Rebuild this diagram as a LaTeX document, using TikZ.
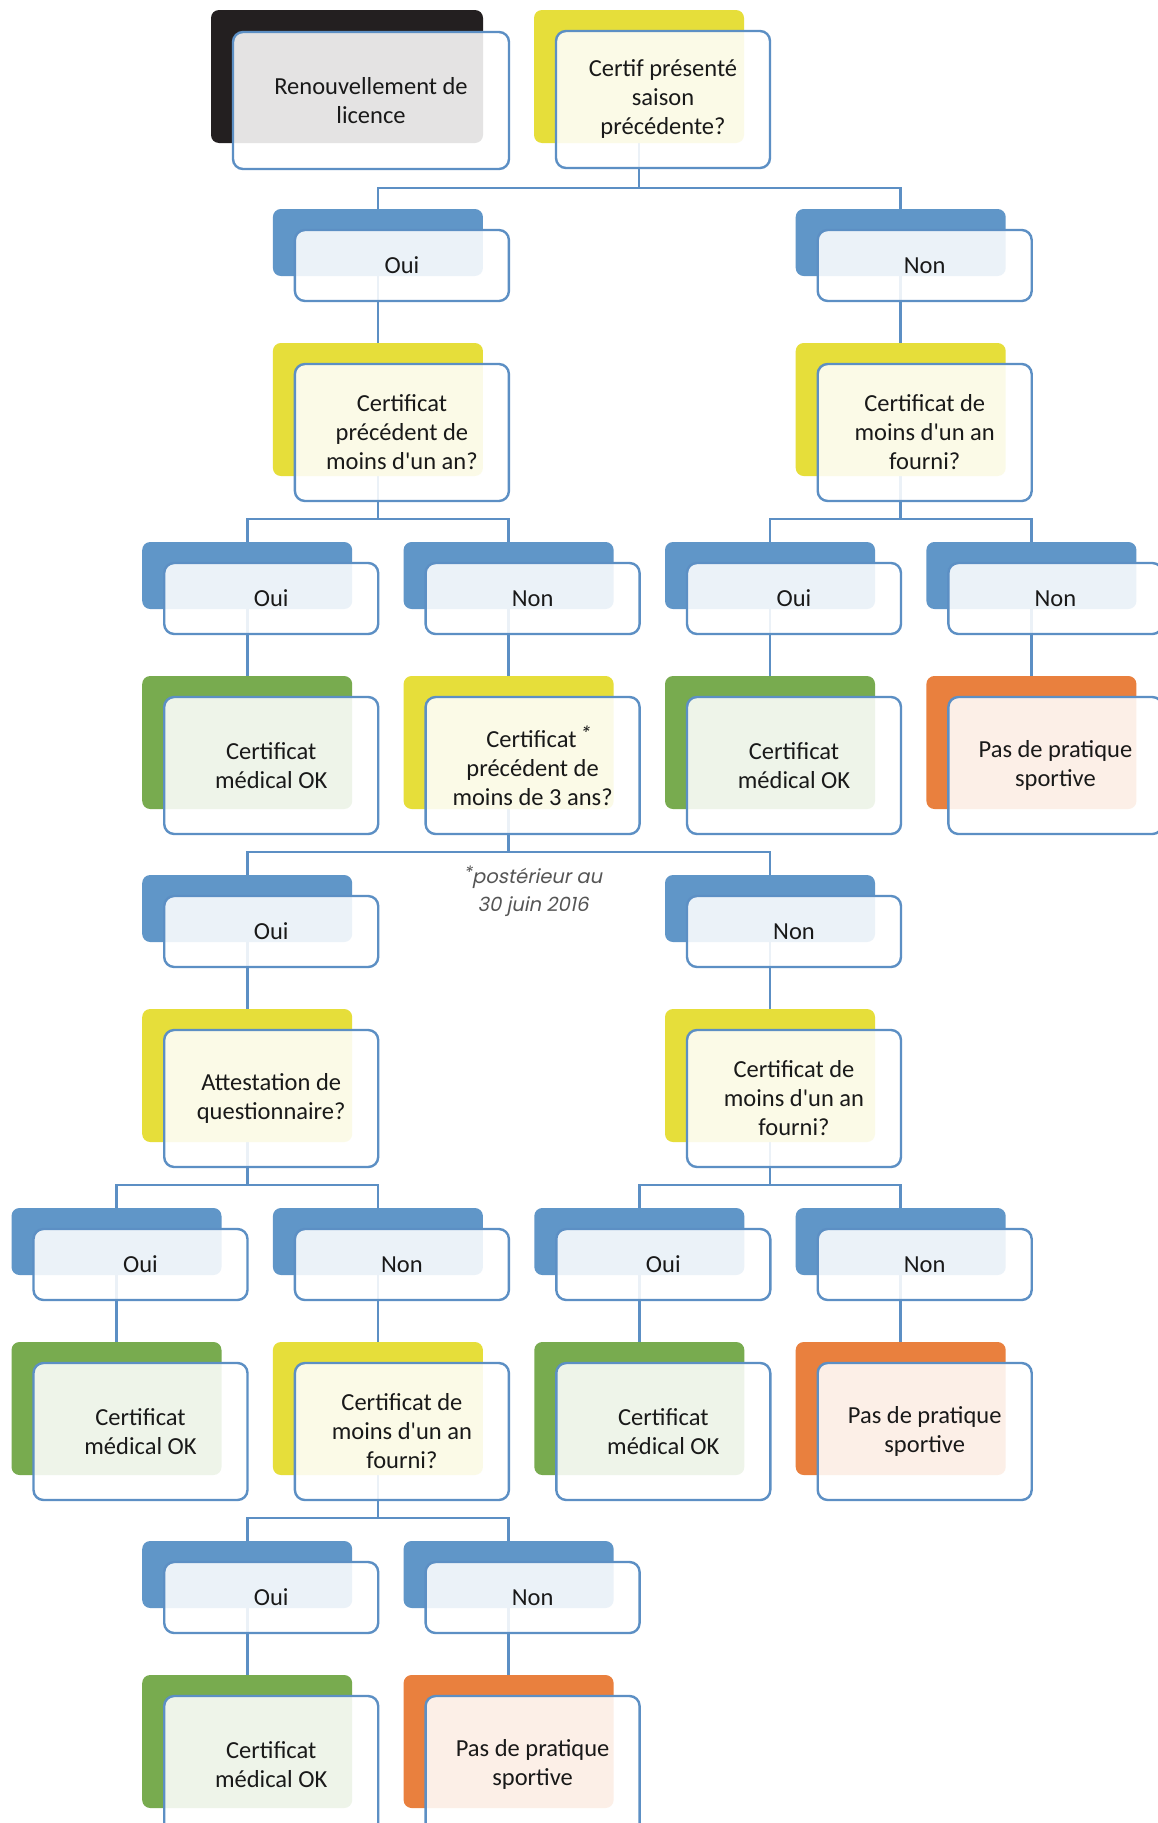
\documentclass[tikz,border=0pt]{standalone}
\usepackage{fontspec}
\setmainfont{Carlito}
\newfontfamily\notefont[FakeSlant=0.2]{Poppins}
\usetikzlibrary{calc}
\definecolor{lineblue}{RGB}{92,143,196}
\definecolor{cblue}{RGB}{96,150,200}
\definecolor{cyellow}{RGB}{230,222,58}
\definecolor{cgreen}{RGB}{120,171,79}
\definecolor{corange}{RGB}{233,128,62}
\definecolor{cblack}{RGB}{35,31,32}
\definecolor{textgray}{RGB}{25,25,25}
\definecolor{notegray}{RGB}{85,85,85}
\newcommand\mainsz{\fontsize{24.5}{29}\selectfont}
\newcommand\ap{\textquotesingle}
\tikzset{
  back/.style={rounded corners=8pt, inner sep=0pt, outer sep=0pt, anchor=north west, minimum width=210pt},
  front/.style={draw=lineblue, line width=2.4pt, fill=white, fill opacity=0.88, text opacity=1,
    rounded corners=10pt, inner sep=0pt, outer sep=0pt, anchor=north west, minimum width=214pt,
    align=center, font=\mainsz, text=textgray},
  sm/.style={minimum height=67pt}, smf/.style={minimum height=71pt},
  bg/.style={minimum height=133pt}, bgf/.style={minimum height=137pt},
  conn/.style={draw=lineblue, line width=2.6pt},
}
\newcommand\duo[6]{%
  \node[back,#4,fill=#5] (#1b) at (#2,#3) {};
  \node[front,#4f] (#1) at ($(#1b.north west)+(22,21)$) {#6};}
\begin{document}
\begin{tikzpicture}[x=1pt,y=-1pt]
\useasboundingbox (0,0) rectangle (1158,1823);
\fill[white] (0,0) rectangle (1158,1823);
\clip (0,0) rectangle (1158,1823);
% junction levels
\coordinate (j0) at (0,188);
\coordinate (j1) at (0,519);
\coordinate (j2) at (0,852);
\coordinate (j3) at (0,1185);
\coordinate (j4) at (0,1518);
% back boxes placed first so that connectors can refer to them
\path
  (534,10) node[back,bg] (certb) {}
  (272.9,209) node[back,sm] (a1b) {}
  (795.7,209) node[back,sm] (a2b) {}
  (272.9,343) node[back,bg] (q1b) {}
  (795.7,343) node[back,bg] (q2b) {}
  (142.2,542) node[back,sm] (b1b) {}
  (403.6,542) node[back,sm] (b2b) {}
  (665.0,542) node[back,sm] (b3b) {}
  (926.4,542) node[back,sm] (b4b) {}
  (142.2,676) node[back,bg] (r1b) {}
  (403.6,676) node[back,bg] (q3b) {}
  (665.0,676) node[back,bg] (r2b) {}
  (926.4,676) node[back,bg] (r3b) {}
  (142.2,875) node[back,sm] (c1b) {}
  (665.0,875) node[back,sm] (c2b) {}
  (142.2,1009) node[back,bg] (q4b) {}
  (665.0,1009) node[back,bg] (q5b) {}
  (11.5,1208) node[back,sm] (d1b) {}
  (272.9,1208) node[back,sm] (d2b) {}
  (534.3,1208) node[back,sm] (d3b) {}
  (795.7,1208) node[back,sm] (d4b) {}
  (11.5,1342) node[back,bg] (r4b) {}
  (272.9,1342) node[back,bg] (q6b) {}
  (534.3,1342) node[back,bg] (r5b) {}
  (795.7,1342) node[back,bg] (r6b) {}
  (142.2,1541) node[back,sm] (e1b) {}
  (403.6,1541) node[back,sm] (e2b) {}
  (142.2,1675) node[back,bg] (r7b) {}
  (403.6,1675) node[back,bg] (r8b) {};
% connectors
\draw[conn] (certb.center) -- (certb.center |- j0) -| (a1b.north);
\draw[conn] (certb.center |- j0) -| (a2b.north);
\draw[conn] (a1b.center) -- (q1b.north);
\draw[conn] (a2b.center) -- (q2b.north);
\draw[conn] (q1b.center) -- (q1b.center |- j1) -| (b1b.north);
\draw[conn] (q1b.center |- j1) -| (b2b.north);
\draw[conn] (q2b.center) -- (q2b.center |- j1) -| (b3b.north);
\draw[conn] (q2b.center |- j1) -| (b4b.north);
\draw[conn] (b1b.center) -- (r1b.north);
\draw[conn] (b2b.center) -- (q3b.north);
\draw[conn] (b3b.center) -- (r2b.north);
\draw[conn] (b4b.center) -- (r3b.north);
\draw[conn] (q3b.center) -- (q3b.center |- j2) -| (c1b.north);
\draw[conn] (q3b.center |- j2) -| (c2b.north);
\draw[conn] (c1b.center) -- (q4b.north);
\draw[conn] (c2b.center) -- (q5b.north);
\draw[conn] (q4b.center) -- (q4b.center |- j3) -| (d1b.north);
\draw[conn] (q4b.center |- j3) -| (d2b.north);
\draw[conn] (q5b.center) -- (q5b.center |- j3) -| (d3b.north);
\draw[conn] (q5b.center |- j3) -| (d4b.north);
\draw[conn] (d1b.center) -- (r4b.north);
\draw[conn] (d2b.center) -- (q6b.north);
\draw[conn] (d3b.center) -- (r5b.north);
\draw[conn] (d4b.center) -- (r6b.north);
\draw[conn] (q6b.center) -- (q6b.center |- j4) -| (e1b.north);
\draw[conn] (q6b.center |- j4) -| (e2b.north);
\draw[conn] (e1b.center) -- (r7b.north);
\draw[conn] (e2b.center) -- (r8b.north);
% boxes
\node[back,bg,fill=cblack,minimum width=272pt] (renb) at (211,10) {};
\node[front,bgf,minimum width=276pt] (ren) at ($(renb.north west)+(22,22)$) {Renouvellement de\\licence};
\duo{cert}{534}{10}{bg}{cyellow}{Certif présenté\\saison\\précédente?}
\duo{a1}{272.9}{209}{sm}{cblue}{Oui}
\duo{a2}{795.7}{209}{sm}{cblue}{Non}
\duo{q1}{272.9}{343}{bg}{cyellow}{Certificat\\précédent de\\moins d\ap un an?}
\duo{q2}{795.7}{343}{bg}{cyellow}{Certificat de\\moins d\ap un an\\fourni?}
\duo{b1}{142.2}{542}{sm}{cblue}{Oui}
\duo{b2}{403.6}{542}{sm}{cblue}{Non}
\duo{b3}{665.0}{542}{sm}{cblue}{Oui}
\duo{b4}{926.4}{542}{sm}{cblue}{Non}
\duo{r1}{142.2}{676}{bg}{cgreen}{Certificat\\médical OK}
\duo{q3}{403.6}{676}{bg}{cyellow}{\hspace*{10pt}Certificat\,\raisebox{9pt}{\notefont\fontsize{17}{17}\selectfont *}\\précédent de\\moins de 3 ans?}
\duo{r2}{665.0}{676}{bg}{cgreen}{Certificat\\médical OK}
\duo{r3}{926.4}{676}{bg}{corange}{Pas de pratique\\sportive}
\duo{c1}{142.2}{875}{sm}{cblue}{Oui}
\duo{c2}{665.0}{875}{sm}{cblue}{Non}
\duo{q4}{142.2}{1009}{bg}{cyellow}{Attestation de\\questionnaire?}
\duo{q5}{665.0}{1009}{bg}{cyellow}{Certificat de\\moins d\ap un an\\fourni?}
\duo{d1}{11.5}{1208}{sm}{cblue}{Oui}
\duo{d2}{272.9}{1208}{sm}{cblue}{Non}
\duo{d3}{534.3}{1208}{sm}{cblue}{Oui}
\duo{d4}{795.7}{1208}{sm}{cblue}{Non}
\duo{r4}{11.5}{1342}{bg}{cgreen}{Certificat\\médical OK}
\duo{q6}{272.9}{1342}{bg}{cyellow}{Certificat de\\moins d\ap un an\\fourni?}
\duo{r5}{534.3}{1342}{bg}{cgreen}{Certificat\\médical OK}
\duo{r6}{795.7}{1342}{bg}{corange}{Pas de pratique\\sportive}
\duo{e1}{142.2}{1541}{sm}{cblue}{Oui}
\duo{e2}{403.6}{1541}{sm}{cblue}{Non}
\duo{r7}{142.2}{1675}{bg}{cgreen}{Certificat\\médical OK}
\duo{r8}{403.6}{1675}{bg}{corange}{Pas de pratique\\sportive}
% note
\node[align=center, text=notegray, font=\notefont\fontsize{19.5}{28}\selectfont, inner sep=0pt] (note) at (533,891)
  {\raisebox{5pt}{\fontsize{17}{17}\selectfont *}postérieur au\\30 juin 2016};
\end{tikzpicture}
\end{document}
